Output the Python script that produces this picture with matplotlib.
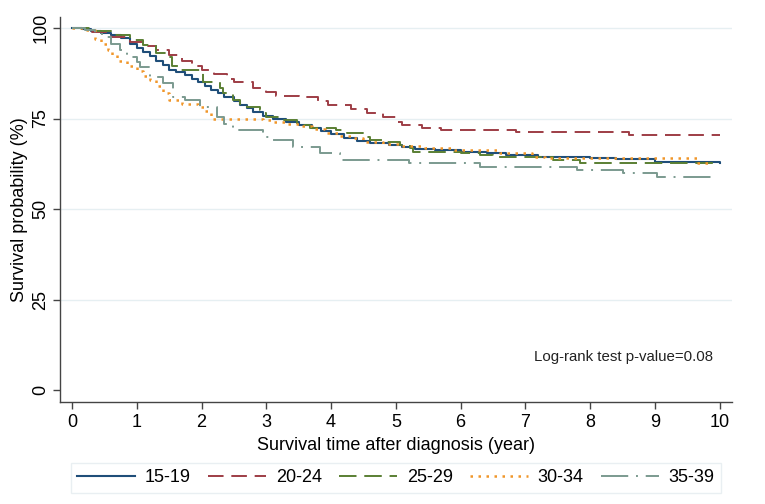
import matplotlib
matplotlib.use("Agg")
import matplotlib.pyplot as plt
from matplotlib.lines import Line2D

plt.rcParams['font.family'] = ['Liberation Sans', 'DejaVu Sans']

groups = ["15-19", "20-24", "25-29", "30-34", "35-39"]

t_1519 = [0, 0.15, 0.3, 0.45, 0.6, 0.75, 0.9, 1.0, 1.1, 1.2, 1.3, 1.4, 1.5, 1.6, 1.75, 1.85, 1.95,
          2.05, 2.15, 2.25, 2.35, 2.5, 2.6, 2.7, 2.8, 2.95, 3.1, 3.3, 3.5, 3.7, 3.85, 4.0, 4.2, 4.4,
          4.6, 4.9, 5.1, 5.3, 5.6, 6.0, 6.4, 6.7, 7.2, 8.0, 8.4, 9.0, 10.0]
s_1519 = [100, 99.7, 99.2, 98.6, 98.0, 97.3, 95.5, 94.5, 93.5, 92.3, 91.0, 89.8, 88.4, 87.8, 87.0,
          86.0, 85.0, 84.0, 83.0, 82.0, 81.0, 79.8, 78.8, 77.8, 76.8, 75.8, 74.8, 74.0, 73.2, 72.3,
          71.5, 70.6, 69.6, 68.8, 68.2, 67.6, 67.0, 66.6, 66.2, 65.8, 65.4, 64.8, 64.4, 64.2, 63.9,
          63.0, 62.7]

t_2024 = [0, 0.3, 0.6, 0.9, 1.1, 1.3, 1.5, 1.7, 1.85, 2.0, 2.2, 2.4, 2.5, 2.8, 3.0, 3.15, 3.5, 3.8,
          3.95, 4.3, 4.55, 4.8, 5.0, 5.1, 5.4, 5.7, 6.85, 8.6, 10.0]
s_2024 = [100, 99.0, 97.5, 96.0, 95.0, 93.9, 92.5, 91.0, 89.5, 88.4, 87.2, 86.0, 85.0, 83.5, 82.3,
          81.3, 81.0, 79.8, 78.7, 77.5, 76.5, 75.5, 74.0, 73.3, 72.4, 71.8, 71.2, 70.4, 70.4]

t_2529 = [0, 0.3, 0.6, 0.9, 1.1, 1.3, 1.45, 1.55, 1.65, 2.02, 2.28, 2.33, 2.48, 2.6, 2.7, 2.9, 2.95,
          3.0, 3.2, 3.47, 3.67, 4.08, 4.24, 4.5, 4.6, 4.86, 5.06, 5.22, 5.27, 6.0, 6.3, 6.5, 7.43,
          7.84, 10.0]
s_2529 = [100, 99.2, 98.2, 96.8, 95.2, 93.0, 92.0, 89.5, 88.4, 85.0, 83.4, 82.0, 80.0, 79.0, 78.2,
          77.3, 76.5, 75.4, 74.5, 73.2, 72.4, 71.8, 71.0, 70.0, 69.0, 68.5, 67.7, 66.9, 65.7, 65.5,
          64.9, 64.4, 63.5, 62.7, 62.7]

t_3034 = [0, 0.2, 0.35, 0.45, 0.55, 0.62, 0.7, 0.85, 1.0, 1.1, 1.2, 1.3, 1.4, 1.5, 1.7, 1.95, 2.05,
          2.15, 2.95, 3.1, 3.3, 3.5, 3.7, 3.9, 4.1, 4.3, 4.5, 4.8, 5.1, 5.45, 5.9, 6.6, 7.1, 7.3,
          9.65, 9.9]
s_3034 = [100, 99.4, 97.0, 95.5, 94.0, 92.5, 91.0, 89.5, 88.0, 86.8, 85.6, 84.0, 82.0, 80.0, 79.0,
          78.2, 77.0, 75.0, 74.5, 74.0, 73.5, 72.8, 72.0, 71.0, 70.2, 69.5, 68.5, 68.0, 67.4, 66.8,
          66.3, 65.5, 64.5, 64.0, 62.7, 62.7]

t_3539 = [0, 0.2, 0.35, 0.48, 0.6, 0.74, 0.85, 1.0, 1.05, 1.2, 1.41, 1.56, 1.75, 1.98, 2.24, 2.35,
          2.48, 2.95, 3.05, 3.41, 3.83, 4.14, 5.2, 6.3, 7.8, 8.5, 9.03, 9.92]
s_3539 = [100, 99.4, 98.3, 97.5, 95.5, 93.9, 92.0, 90.5, 89.3, 86.5, 84.8, 81.0, 80.0, 78.2, 75.4,
          73.5, 71.8, 69.8, 69.0, 67.0, 65.5, 63.5, 62.7, 61.6, 60.8, 59.9, 58.8, 58.8]

x_ticks = [0, 1, 2, 3, 4, 5, 6, 7, 8, 9, 10]
y_ticks = [0, 25, 50, 75, 100]
annotation = "Log-rank test p-value=0.08"

colors = ["#1f4e79", "#9e3d45", "#5a7f33", "#f0962a", "#7b9a8f"]
styles = ["-", (0, (8, 4)), (0, (9, 4)), (0, (1, 2.2)), (0, (14, 4, 1, 4))]
widths = [1.5, 1.4, 1.4, 1.8, 1.4]

series = [(t_1519, s_1519), (t_2024, s_2024), (t_2529, s_2529), (t_3034, s_3034), (t_3539, s_3539)]

fig = plt.figure(figsize=(7.65, 5.04), dpi=100)
ax = fig.add_axes([0.0784, 0.2024, 0.8786, 0.7636])

for y in [25, 50, 75, 100]:
    ax.axhline(y, color="#e6eff2", lw=1.0, zorder=0)

handles = []
for (t, s), g, c, ls, lw in zip(series, groups, colors, styles, widths):
    ax.step(t, s, where="post", color=c, linestyle=ls, lw=lw)
    handles.append(Line2D([], [], color=c, linestyle=ls, lw=lw))

ax.set_xlim(-0.185, 10.19)
ax.set_ylim(-3.3, 103)
ax.set_xticks(x_ticks)
ax.set_yticks(y_ticks)
ax.set_yticklabels([str(v) for v in y_ticks], rotation=90, va="center")
ax.tick_params(axis="both", labelsize=13, length=5, width=1.0, color="#444444", pad=4)
ax.tick_params(axis="y", pad=2.5)
for sp in ["top", "right"]:
    ax.spines[sp].set_visible(False)
for sp in ["left", "bottom"]:
    ax.spines[sp].set_color("#444444")
    ax.spines[sp].set_linewidth(1.0)

ax.set_xlabel("Survival time after diagnosis (year)", fontsize=13, labelpad=4)
ax.set_ylabel("Survival probability (%)", fontsize=13, labelpad=3)

ax.text(9.89, 9.1, annotation, fontsize=10.8, ha="right", va="center", color="#222222")

leg = fig.legend(handles, groups, loc="center", bbox_to_anchor=(0.5176, 0.0516), ncol=5,
                 fontsize=13, handlelength=3.2, columnspacing=0.95, handletextpad=0.55,
                 frameon=True, fancybox=False, borderpad=0.35)
leg.get_frame().set_edgecolor("#e4ecef")
leg.get_frame().set_linewidth(1.0)

fig.savefig("out.png", dpi=100)
